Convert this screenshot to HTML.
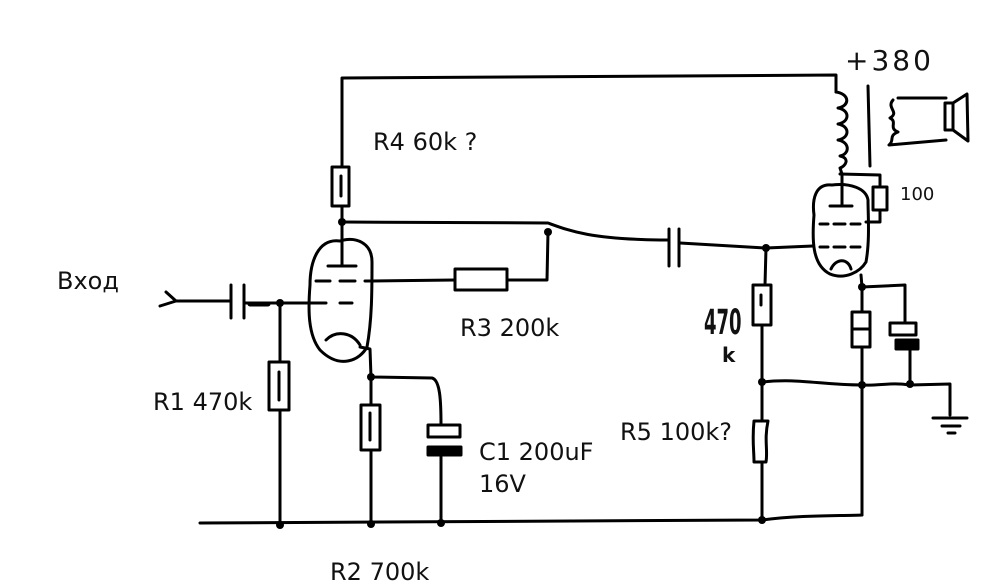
<!DOCTYPE html>
<html><head><meta charset="utf-8"><style>
html,body{margin:0;padding:0;background:#fff;}
svg{display:block;}
text{font-family:"DejaVu Sans","Liberation Sans",sans-serif;fill:#111;}
</style></head><body>
<svg width="1000" height="588" viewBox="0 0 1000 588" xmlns="http://www.w3.org/2000/svg">
<g fill="none" stroke="#000" stroke-width="3" stroke-linecap="round" stroke-linejoin="round">
<path d="M342 167 L342 78 L836 75 L836 92"/>
<path d="M836 92 C850 94 850 106 838 108 C850 110 850 122 838 124 C850 126 850 138 838 140 C850 142 850 154 840 156 C850 158 846 166 840 168 L842 174"/>
<path d="M868 86 L870 166"/>
<path d="M898 98 L946 98 M893 100 C886 108 900 112 890 118 C898 122 888 128 898 132 C888 136 895 140 889 145 L946 140"/>
<rect x="945" y="103" width="8" height="27"/>
<path d="M953 103 L967 94 L968 141 L953 130"/>
<path d="M840 174 L880 175 L880 187"/>
<rect x="873" y="187" width="14" height="23"/>
<path d="M880 210 L880 222 L866 222"/>
<path d="M832 185 C815 183 812 200 814 215 C812 240 812 265 830 274 C845 280 860 272 866 262 C870 240 868 215 868 200 C866 188 850 183 832 185 Z"/>
<path d="M842 174 L842 205 M830 206 L852 206"/>
<path d="M820 224 L828 224 M834 224 L845 224 M851 224 L860 224 M820 247 L828 247 M834 247 L845 247 M851 247 L860 247"/>
<path d="M831 269 C836 258 848 258 851 269"/>
<path d="M766 248 L813 246"/>
<path d="M861 275 L862 287 L905 285 L905 323"/>
<rect x="890" y="323" width="26" height="12"/>
<rect x="896" y="340" width="22" height="9" fill="#000"/>
<path d="M910 349 L910 385"/>
<rect x="852" y="312" width="18" height="35"/>
<path d="M852 329 L870 329 M862 287 L862 312 M862 347 L862 515"/>
<path d="M762 382 C800 378 820 385 862 385 C880 386 890 382 910 385 L950 384 L950 415"/>
<path d="M933 418 L967 418 M942 426 L960 426 M948 433 L955 433"/>
<rect x="332" y="167" width="17" height="39"/>
<path d="M341 176 L341 196"/>
<path d="M342 206 L342 266 M328 266 L356 266"/>
<path d="M342 222 L548 223 C570 231 590 239 660 240 M660 240 L668 240 M680 243 L766 248"/>
<path d="M669 229 L669 266 M679 229 L679 266"/>
<path d="M340 241 C318 238 310 262 310 285 C308 310 308 335 320 350 C340 370 360 360 367 347 C372 320 372 290 372 262 C372 243 356 236 340 241 Z"/>
<path d="M316 281 L330 281 M340 281 L355 281 M365 281 L370 281 M320 303 L326 303 M340 303 L352 303"/>
<path d="M326 340 C336 330 352 332 360 345"/>
<path d="M372 281 L455 280"/>
<rect x="455" y="269" width="52" height="21"/>
<path d="M507 280 L547 280 L548 232"/>
<path d="M160 306 L176 301 L166 292 M176 301 L231 301"/>
<path d="M231 285 L231 318 M244 285 L244 318"/>
<path d="M245 303 L320 303" />
<path d="M250 304 L268 304" stroke-width="5"/>
<path d="M280 303 L280 362"/>
<rect x="269" y="362" width="20" height="48"/>
<path d="M279 372 L279 400 M280 410 L280 525"/>
<path d="M360 347 L370 349 L371 377 L432 378 C440 380 441 400 441 425"/>
<rect x="428" y="425" width="32" height="12"/>
<rect x="428" y="447" width="33" height="8" fill="#000"/>
<path d="M441 455 L441 525"/>
<rect x="361" y="405" width="19" height="45"/>
<path d="M370 413 L370 440 M371 377 L371 405 M371 450 L371 525"/>
<path d="M766 248 L765 285"/>
<rect x="753" y="285" width="18" height="40"/>
<path d="M761 295 L761 305 M762 325 L762 420"/>
<path d="M754 421 C752 440 754 450 754 462 L766 462 C768 450 764 440 768 421 Z"/>
<path d="M762 462 L762 520"/>
<path d="M200 523 L762 520 C800 515 840 516 862 515"/>
</g>
<g fill="#000">
<circle cx="342" cy="222" r="4"/><circle cx="548" cy="232" r="4"/><circle cx="766" cy="248" r="4"/>
<circle cx="280" cy="303" r="4"/><circle cx="371" cy="377" r="4"/><circle cx="762" cy="382" r="4"/>
<circle cx="862" cy="287" r="4"/><circle cx="862" cy="385" r="4"/><circle cx="910" cy="384" r="4"/>
<circle cx="280" cy="525" r="4"/><circle cx="371" cy="524" r="4"/><circle cx="441" cy="523" r="4"/><circle cx="762" cy="520" r="4"/>
</g>
<g font-size="24">
<text x="57" y="289">Вход</text>
<text x="373" y="150">R4 60k ?</text>
<text x="460" y="336">R3 200k</text>
<text x="153" y="410">R1 470k</text>
<text x="479" y="460">C1 200uF</text>
<text x="479" y="492">16V</text>
<text x="620" y="440">R5 100k?</text>
<text x="330" y="580">R2 700k</text>
</g>
<text x="0" y="0" font-size="30" font-weight="bold" transform="translate(704,334) scale(0.6,1.15)">470</text>
<text x="722" y="362" font-size="20" font-weight="bold">k</text>
<text x="845" y="70" font-size="28" letter-spacing="3">+380</text>
<text x="900" y="200" font-size="18">100</text>
</svg>
</body></html>
